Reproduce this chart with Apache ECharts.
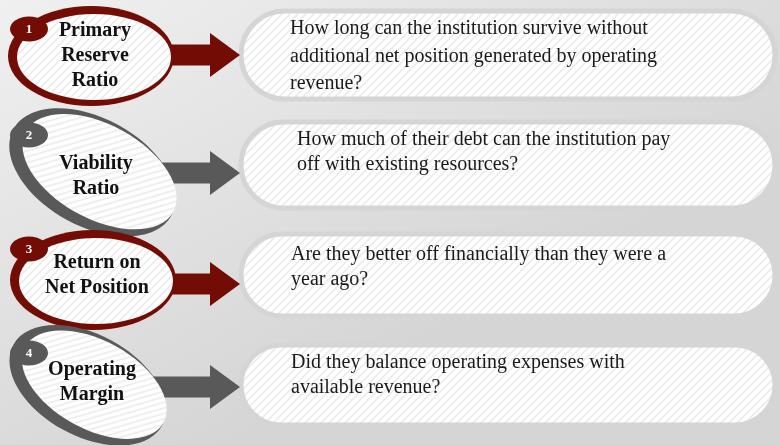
<!DOCTYPE html>
<html>
<head>
<meta charset="utf-8">
<script src="https://cdn.jsdelivr.net/npm/echarts@6/dist/echarts.min.js"></script>
<style>
  html, body { margin: 0; padding: 0; }
  #chart { width: 780px; height: 445px; }
</style>
</head>
<body>
<div id="chart"></div>
<script>
// ---- data ----
const badges = ['1', '2', '3', '4'];
const titles = ['Primary\nReserve\nRatio', 'Viability\nRatio', 'Return on\nNet Position', 'Operating\nMargin'];
const questions = [
  'How long can the institution survive without\nadditional net position generated by operating\nrevenue?',
  'How much of their debt can the institution pay\noff with existing resources?',
  'Are they better off financially than they were a\nyear ago?',
  'Did they balance operating expenses with\navailable revenue?'
];

// ---- styling ----
const RED = '#730c05', GREY = '#595959';
const palette = [RED, GREY, RED, GREY];
const tilted = [false, true, false, true];
// small per-row nudges, px relative to the row centre
const layout = [
  { ell: [92, 1], scale: 1,    badge: [29, -26], label: [95, 1],  arrow: 0, text: [290, -40], lh: 27.5, boxH: 92 },
  { ell: [96, 7], scale: 1,    badge: [29, -30], label: [96, 11], arrow: 8, text: [297, -38], lh: 25, boxH: 90 },
  { ell: [94, 5], scale: 1,    badge: [29, -26], label: [97, 0],  arrow: 9, text: [291, -33], lh: 25, boxH: 86 },
  { ell: [91, 0], scale: 0.94, badge: [29, -32], label: [92, -3], arrow: 2, text: [291, -35], lh: 25, boxH: 84 }
];

// striped fill used inside the shapes
const stripe = document.createElement('canvas');
stripe.width = 8; stripe.height = 8;
(function () {
  const c = stripe.getContext('2d');
  c.fillStyle = '#ffffff';
  c.fillRect(0, 0, 8, 8);
  c.strokeStyle = '#ebebeb';
  c.lineWidth = 1.6;
  c.beginPath();
  c.moveTo(-2, 10); c.lineTo(10, -2);
  c.moveTo(-2, 2); c.lineTo(2, -2);
  c.moveTo(6, 10); c.lineTo(10, 6);
  c.stroke();
})();
const stripeFill = { image: stripe, repeat: 'repeat' };

const chart = echarts.init(document.getElementById('chart'));

function renderRow(params, api) {
  const i = api.value(1);
  const L = layout[i];
  const cy = api.coord([0, i])[1];
  const px = x => api.coord([x, i])[0];
  const color = palette[i];
  const children = [];

  // question box
  children.push({
    type: 'rect',
    shape: { x: px(241), y: cy - L.boxH / 2 + 2, width: px(775) - px(241), height: L.boxH - 4, r: (L.boxH - 4) / 2 },
    style: { fill: stripeFill, stroke: '#d5d5d5', lineWidth: 5 }
  });

  // arrow
  const ay = cy + L.arrow;
  children.push({
    type: 'polygon',
    shape: { points: [
      [px(150), ay - 10.5], [px(210), ay - 10.5], [px(210), ay - 22], [px(240), ay],
      [px(210), ay + 22], [px(210), ay + 10.5], [px(150), ay + 10.5]
    ] },
    style: { fill: color }
  });

  // ring
  const ex = px(L.ell[0]), ey = cy + L.ell[1];
  if (tilted[i]) {
    children.push({
      type: 'group', x: ex, y: ey, rotation: -0.5, scaleX: L.scale, scaleY: L.scale,
      children: [
        { type: 'ellipse', shape: { cx: -3, cy: 2, rx: 90, ry: 54 }, style: { fill: color } },
        { type: 'ellipse', shape: { cx: 3, cy: -2, rx: 84, ry: 47 }, style: { fill: stripeFill } }
      ]
    });
  } else {
    children.push({ type: 'ellipse', shape: { cx: ex - 1, cy: ey, rx: 83, ry: 50 }, style: { fill: color } });
    children.push({ type: 'ellipse', shape: { cx: ex + 2, cy: ey + 1, rx: 77, ry: 43 }, style: { fill: stripeFill } });
  }

  // number badge
  const bx = px(L.badge[0]), by = cy + L.badge[1];
  children.push({ type: 'ellipse', shape: { cx: bx, cy: by, rx: 19, ry: 12.5 }, style: { fill: color } });
  children.push({
    type: 'text',
    style: {
      text: badges[i], x: bx, y: by + 1, align: 'center', verticalAlign: 'middle',
      fill: '#ffffff', fontFamily: 'Liberation Serif', fontWeight: 'bold', fontSize: 13
    }
  });

  // ring label
  children.push({
    type: 'text',
    style: {
      text: titles[i], x: px(L.label[0]), y: cy + L.label[1], align: 'center', verticalAlign: 'middle',
      fill: '#111111', fontFamily: 'Liberation Serif', fontWeight: 'bold', fontSize: 20, lineHeight: 25
    }
  });

  // question text
  children.push({
    type: 'text',
    style: {
      text: questions[i], x: px(L.text[0]), y: cy + L.text[1], align: 'left', verticalAlign: 'top',
      fill: '#1a1a1a', fontFamily: 'Liberation Serif', fontSize: 20, lineHeight: L.lh
    }
  });

  return { type: 'group', children };
}

chart.setOption({
  animation: false,
  backgroundColor: {
    type: 'linear', x: 0, y: 0, x2: 0.3, y2: 1,
    colorStops: [{ offset: 0, color: '#f0f0f0' }, { offset: 1, color: '#d5d5d5' }]
  },
  grid: { left: 0, right: 0, top: -4, bottom: 5 },
  xAxis: { type: 'value', min: 0, max: 780, show: false },
  yAxis: { type: 'category', data: badges, inverse: true, show: false },
  series: [{
    type: 'custom',
    clip: false,
    silent: true,
    renderItem: renderRow,
    encode: { x: 0, y: 1 },
    data: badges.map((b, i) => [0, i])
  }]
});
</script>
</body>
</html>
